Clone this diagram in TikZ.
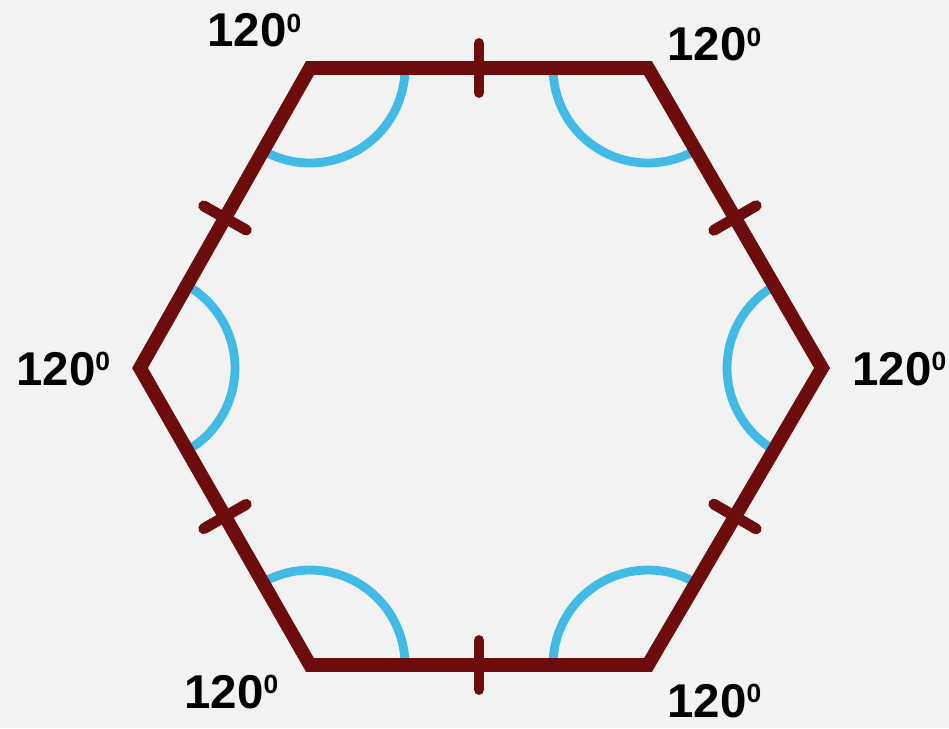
\documentclass[tikz,border=0pt]{standalone}
\usepackage{fontspec}
\setmainfont{Liberation Sans}
\usepackage{xcolor}
\usepackage{tikz}
\usetikzlibrary{
	calc,
	angles,
	positioning
}
\definecolor{edgered}{RGB}{108,12,12}
\definecolor{arcblue}{RGB}{66,186,230}
\definecolor{paper}{RGB}{242,242,242}
\newcommand{\angtext}{120\raisebox{8.5pt}{\fontsize{15}{16}\selectfont 0}}
\tikzset{
	edge/.style={line width=7.8pt, draw=edgered, line join=miter},
	tickmark/.style={line width=6.2pt, draw=edgered, line cap=round},
	angarc/.style={draw=arcblue, line width=5pt, angle radius=1.9cm},
	anglabel/.style={anchor=base west, inner sep=0pt, font=\bfseries\fontsize{27}{30}\selectfont}
}

\begin{document}
\begin{tikzpicture}[x=0.02cm, y=0.02cm]
		\fill[paper] (0,0) rectangle (949,728);
		\useasboundingbox (0,0) rectangle (949,728);
		\coordinate (TL) at (310,660);
		\coordinate (TR) at (648,660);
		\coordinate (R) at (822,360);
		\coordinate (BR) at (648,63);
		\coordinate (BL) at (310,63);
		\coordinate (L) at (140,360);
		% 角弧
		\pic[angarc] {angle = L--TL--TR};
		\pic[angarc] {angle = TL--TR--R};
		\pic[angarc] {angle = TR--R--BR};
		\pic[angarc] {angle = R--BR--BL};
		\pic[angarc] {angle = BR--BL--L};
		\pic[angarc] {angle = BL--L--TL};
		% 六边形
		\draw[edge] (TL)--(TR)--(R)--(BR)--(BL)--(L)--cycle;
		% 等长标记
		\foreach \a/\b in {TL/TR, TR/R, R/BR, BR/BL, BL/L, L/TL} {
			\coordinate (m) at ($(\a)!0.5!(\b)$);
			\draw[tickmark] ($(m)!0.49cm!90:(\b)$)--($(m)!0.49cm!-90:(\b)$);
		}
		% 标注
		\node[anglabel] (lTL) at (207,681) {\angtext};
		\node[anglabel] (lTR) at (667,667) {\angtext};
		\node[anglabel] (lL) at (16,343) {\angtext};
		\node[anglabel] (lR) at (852,343) {\angtext};
		\node[anglabel] (lBL) at (184,20) {\angtext};
		\node[anglabel] (lBR) at (667,11) {\angtext};
	\end{tikzpicture}
\end{document}
